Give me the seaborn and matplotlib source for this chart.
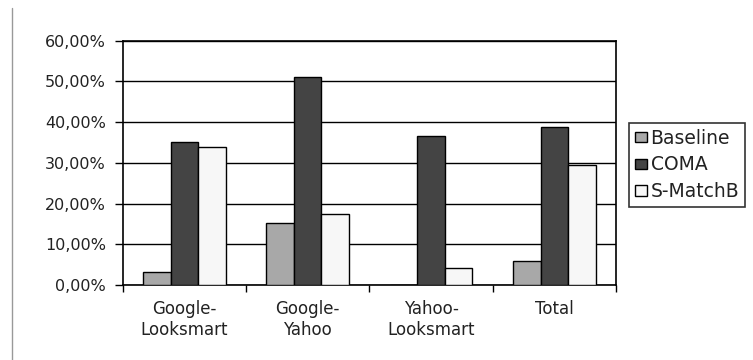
import matplotlib
matplotlib.use("Agg")
import matplotlib.pyplot as plt
import seaborn as sns
import pandas as pd
from matplotlib.lines import Line2D
from matplotlib.ticker import FuncFormatter, FixedLocator

categories = ["Google-\nLooksmart", "Google-\nYahoo", "Yahoo-\nLooksmart", "Total"]
series_names = ["Baseline", "COMA", "S-MatchB"]
baseline = [3.1, 15.3, 0.0, 5.9]
coma = [35.1, 51.2, 36.6, 38.9]
smatch = [33.8, 17.5, 4.2, 29.5]
colors = ["#a8a8a8", "#444444", "#f7f7f7"]

rows = []
for name, vals in zip(series_names, [baseline, coma, smatch]):
    for c, v in zip(categories, vals):
        rows.append({"category": c, "series": name, "value": v})
df = pd.DataFrame(rows)

sns.set_theme(style="white")
plt.rcParams["font.family"] = ["DejaVu Sans"]

fig = plt.figure(figsize=(7.53, 3.60), dpi=100)
ax = fig.add_axes([122.7 / 753, 1 - 285 / 360, (616 - 122.7) / 753, (285 - 40.7) / 360])

sns.barplot(data=df, x="category", y="value", hue="series", order=categories,
            hue_order=series_names, palette=colors, width=0.668, gap=0,
            edgecolor="black", linewidth=1.0, saturation=1, ax=ax, zorder=3,
            legend=True)

ax.set_ylim(0, 60)
ax.set_xlim(-0.5, 3.5)
ax.set_yticks(range(0, 61, 10))
ax.yaxis.set_major_formatter(FuncFormatter(lambda v, p: f"{v:.2f}%".replace(".", ",")))
ax.grid(axis="y", color="black", linewidth=1.0, zorder=0)
ax.set_axisbelow(True)
ax.set_xlabel("")
ax.set_ylabel("")
for s in ax.spines.values():
    s.set_visible(True)
    s.set_color("black")
    s.set_linewidth(1.2)

ax.tick_params(axis="y", which="major", left=True, length=6, width=1, color="black",
               labelsize=11.5, labelcolor="#222222", pad=6)
ax.tick_params(axis="x", which="major", bottom=False, length=0, labelsize=12,
               labelcolor="#222222", pad=11)
ax.xaxis.set_minor_locator(FixedLocator([-0.5, 0.5, 1.5, 2.5, 3.5]))
ax.tick_params(axis="x", which="minor", bottom=True, length=5, width=1, color="black")

handles, labels = ax.get_legend_handles_labels()
ax.legend_.remove()
leg = fig.legend(handles, labels, loc="upper left",
                 bbox_to_anchor=(629 / 753, 1 - 123 / 360), frameon=True,
                 fancybox=False, edgecolor="black", fontsize=13.5,
                 handlelength=0.65, handleheight=0.5, handletextpad=0.2,
                 labelspacing=0.42, borderpad=0.3, borderaxespad=0)
leg.get_frame().set_linewidth(1.2)
for t in leg.get_texts():
    t.set_color("#222222")

fig.add_artist(Line2D([12 / 753, 12 / 753], [0, 1 - 8 / 360], color="#999999", linewidth=1))

fig.savefig("out.png", dpi=100, facecolor="white")
